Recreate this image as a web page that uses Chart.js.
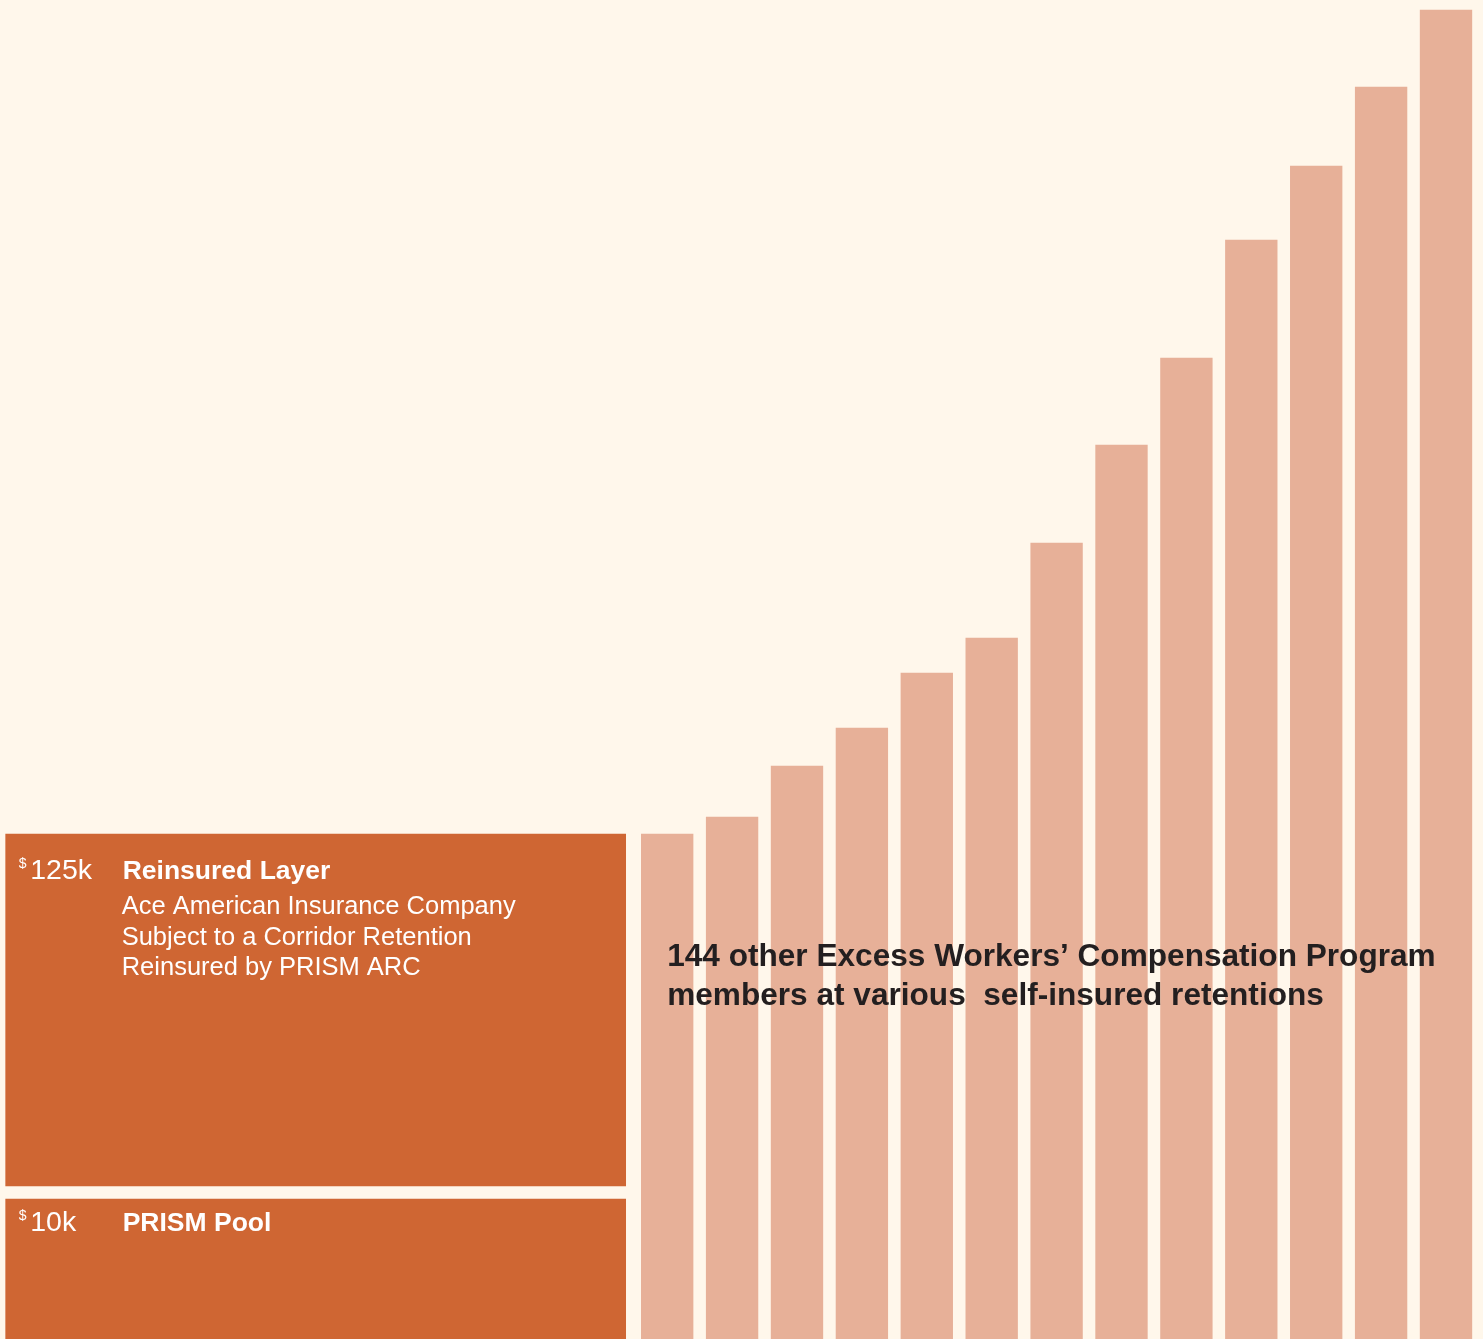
<!DOCTYPE html>
<html>
<head>
<meta charset="utf-8">
<script src="https://cdn.jsdelivr.net/npm/chart.js@4.4.1/dist/chart.umd.min.js"></script>
<style>
  html, body { margin: 0; padding: 0; background: #FFF7EB; overflow: hidden; }
  #wrap { position: relative; width: 1483px; height: 1339px; }
</style>
</head>
<body>
<div id="wrap"><canvas id="c" width="1483" height="1339"></canvas></div>
<script>
// ---- data ----
const memberLabels = ['Member A','Member B','Member C','Member D','Member E','Member F','Member G',
                      'Member H','Member I','Member J','Member K','Member L','Member M'];
const memberRetentions = [505, 522, 573, 611, 666, 701, 796, 894, 981, 1099, 1173, 1252, 1329];

const layerNames   = ['PRISM Pool', 'Reinsured Layer'];
const layerAmounts = ['10k', '125k'];
const layerFrom    = [0, 153];
const layerTo      = [140, 505];
const layerNotes   = [
  [],
  ['Ace American Insurance Company', 'Subject to a Corridor Retention', 'Reinsured by PRISM ARC']
];
const captionLines = [
  '144 other Excess Workers\u2019 Compensation Program',
  'members at various  self-insured retentions'
];

// ---- styles / layout (not data) ----
const COLORS = { bg: '#FFF7EB', layer: '#CF6633', member: '#E7B098', text: '#FFFFFF', caption: '#231F20' };
const FONT = '"Liberation Sans", Arial, sans-serif';
const layerXValue = -4.416;          // where the stacked layer column sits on the x scale
const layerBaselineOffset = [32, 45]; // first baseline below each layer's top
const captionAnchor = { x: 1, y: 373 };

const labelPlugin = {
  id: 'layerLabels',
  afterDatasetsDraw(chart) {
    const ctx = chart.ctx;
    const meta = chart.getDatasetMeta(1);
    ctx.save();
    ctx.textBaseline = 'alphabetic';
    ctx.textAlign = 'left';
    meta.data.forEach((el, i) => {
      const left = el.x - el.width / 2;
      const top = Math.min(el.y, el.base);
      const base = top + layerBaselineOffset[i];
      ctx.fillStyle = COLORS.text;
      ctx.font = '14px ' + FONT;
      ctx.fillText('$', left + 13, base - 11);
      ctx.font = '28.5px ' + FONT;
      ctx.fillText(layerAmounts[i], left + 24.5, base);
      ctx.font = 'bold 26.5px ' + FONT;
      ctx.fillText(layerNames[i], left + 117, base);
      ctx.font = '25.5px ' + FONT;
      layerNotes[i].forEach((line, j) => {
        ctx.fillText(line, left + 116, base + 35 + j * 30.5);
      });
    });
    // caption over member bars
    const xs = chart.scales.x, ys = chart.scales.y;
    const cx = xs.getPixelForValue(captionAnchor.x);
    const cy = ys.getPixelForValue(captionAnchor.y);
    ctx.fillStyle = COLORS.caption;
    ctx.font = 'bold 31.6px ' + FONT;
    captionLines.forEach((line, j) => ctx.fillText(line, cx, cy + j * 39));
    ctx.restore();
  }
};

new Chart(document.getElementById('c'), {
  type: 'bar',
  data: {
    datasets: [
      {
        label: 'Other program members',
        data: memberRetentions.map((v, i) => ({ x: i + 1, y: v, name: memberLabels[i] })),
        backgroundColor: COLORS.member,
        borderWidth: 0,
        barThickness: 51.7,
        grouped: false
      },
      {
        label: 'PRISM layers',
        data: layerNames.map((n, i) => ({ x: layerXValue, y: [layerFrom[i], layerTo[i]], name: n })),
        backgroundColor: COLORS.layer,
        borderWidth: 0,
        barThickness: 620,
        grouped: false
      }
    ]
  },
  options: {
    responsive: false,
    animation: false,
    devicePixelRatio: 1,
    layout: { padding: 0 },
    scales: {
      x: { type: 'linear', min: -9.28, max: 13.57, offset: false, bounds: 'ticks', display: false },
      y: { type: 'linear', min: 0, max: 1339, display: false }
    },
    plugins: { legend: { display: false }, tooltip: { enabled: false } }
  },
  plugins: [labelPlugin]
});
</script>
</body>
</html>
